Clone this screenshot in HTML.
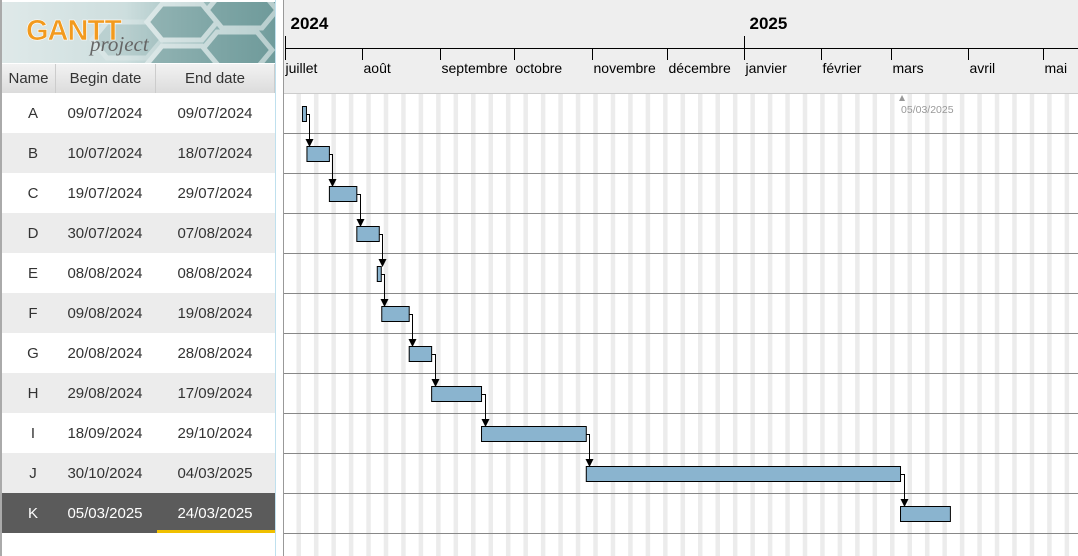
<!DOCTYPE html>
<html><head><meta charset="utf-8">
<style>
body{margin:0;width:1078px;height:556px;overflow:hidden;background:#fff;font-family:"Liberation Sans",Arial,sans-serif;position:relative}
#left{position:absolute;left:0;top:0;width:276px;height:556px;background:#fff;border-left:2px solid #aaa;box-sizing:border-box}
#logo{position:absolute;left:0;top:2px;width:273px;height:61px;overflow:hidden;background:linear-gradient(90deg,#dfe9e9 0%,#cddede 45%,#8fb3b3 80%,#6f9b9b 100%)}
.hdr{position:absolute;top:64px;height:29px;background:linear-gradient(#f2f2f2,#dcdcdc);border-right:1px solid #ccc;color:#333;font-size:15px;line-height:29px;text-align:center;box-sizing:border-box}
.row{position:absolute;left:0;width:273px;height:40px;font-size:15px;color:#333;line-height:41px}
.row span{position:absolute;text-align:center}
#chart{position:absolute;left:283px;top:0;width:795px;height:556px;border-left:1px solid #999;box-sizing:border-box}
</style></head><body>
<div id="left">
  <div id="logo">
    <svg width="273" height="61" style="position:absolute;left:0;top:0">
      <g fill="#6f9a9a" opacity="0.55" stroke="#f4f8f8" stroke-width="5">
        <polygon points="160,2 200,2 215,20 200,38 160,38 145,20"/>
        <polygon points="220,-10 260,-10 275,8 260,26 220,26 205,8"/>
        <polygon points="215,30 255,30 270,48 255,66 215,66 200,48"/>
        <polygon points="160,44 200,44 215,62 200,80 160,80 145,62"/>
        <polygon points="105,20 145,20 160,38 145,56 105,56 90,38" opacity="0.4"/>
      </g>
      <text x="24" y="38" font-family="Liberation Sans" font-weight="bold" font-size="29" fill="#f29a1e" stroke="#fff" stroke-width="0.6" letter-spacing="-1">GANTT</text>
      <text x="88" y="49" font-family="Liberation Serif" font-style="italic" font-size="21" fill="#666">project</text>
    </svg>
  </div>
  <div class="hdr" style="left:0;width:54px">Name</div>
  <div class="hdr" style="left:54px;width:100px">Begin date</div>
  <div class="hdr" style="left:154px;width:119px">End date</div>
  <div id="rows"></div>
  <div style="position:absolute;left:273px;top:0;width:1px;height:556px;background:#bfe0ee"></div>
</div>
<div id="chart">
  <svg id="svg" width="795" height="556" style="position:absolute;left:-284px;top:0;overflow:visible"></svg>
</div>
<script>
const names=["A","B","C","D","E","F","G","H","I","J","K"];
const beginDates=["09/07/2024","10/07/2024","19/07/2024","30/07/2024","08/08/2024","09/08/2024","20/08/2024","29/08/2024","18/09/2024","30/10/2024","05/03/2025"];
const endDates=["09/07/2024","18/07/2024","29/07/2024","07/08/2024","08/08/2024","19/08/2024","28/08/2024","17/09/2024","29/10/2024","04/03/2025","24/03/2025"];
const monthLabels=["juillet","août","septembre","octobre","novembre","décembre","janvier","février","mars","avril","mai"];
const yearLabels=["2024","2025"];
const todayLabel="05/03/2025";
const x0=284.5, pxDay=2.494, rowTop=93, rowH=40;
const base=Date.UTC(2024,6,1);
function day(s){const p=s.split('/');return (Date.UTC(+p[2],+p[1]-1,+p[0])-base)/864e5;}
function X(d){return x0+d*pxDay;}
const NS="http://www.w3.org/2000/svg";
const svg=document.getElementById('svg');
function mk(t,a,p){const e=document.createElementNS(NS,t);for(const k in a)e.setAttribute(k,a[k]);(p||svg).appendChild(e);return e;}
let hb=mk('rect',{x:284,y:0,width:794,height:93,fill:'#eeeeee'});


mk('line',{x1:284,y1:93.5,x2:1078,y2:93.5,stroke:'#ccc'});
for(let d=5; X(d)<1078; d+=7){
  const s=mk('rect',{x:X(d)-0.5,y:94,width:4.5,height:462,fill:'#ececec'});
  
  
}
mk('line',{x1:286,y1:48.5,x2:1078,y2:48.5,stroke:'#000'});
yearLabels.forEach((y,i)=>{
  const d=(Date.UTC(2024+i,i?0:6,1)-base)/864e5; const xx=Math.round(X(d)+0.5)+0.5;
  mk('line',{x1:xx,y1:36,x2:xx,y2:i?60:48,stroke:'#000'});
  const t=mk('text',{x:xx+5,y:29,'font-size':17,'font-weight':'bold',fill:'#000','font-family':'Liberation Sans'});t.textContent=y;
  
  
});
monthLabels.forEach((m,i)=>{
  const yy=2024+Math.floor((6+i)/12), mm=(6+i)%12;
  const d=(Date.UTC(yy,mm,1)-base)/864e5; const xx=Math.round(X(d)+0.5)+0.5;
  mk('line',{x1:xx,y1:48,x2:xx,y2:60,stroke:'#000'});
  const t=mk('text',{x:xx+(i?1:0),y:73,'font-size':14,fill:'#000','font-family':'Liberation Sans'});t.textContent=m;
  
  
});
const td=day(todayLabel), tx=X(td)+1.5;
mk('polygon',{points:`${tx-3},101 ${tx+3},101 ${tx},95`,fill:'#999'});
let tt=mk('text',{x:tx-1,y:113,'font-size':10.5,fill:'#999','font-family':'Liberation Sans'});tt.textContent=todayLabel;


for(let i=1;i<=names.length;i++){mk('line',{x1:284,y1:rowTop+i*rowH+0.5,x2:1078,y2:rowTop+i*rowH+0.5,stroke:'#888'});}
const bars=[];
names.forEach((n,i)=>{
  const s=X(day(beginDates[i])), e=X(day(endDates[i])+1);
  let w=e-s, bx=s; if(w<4){bx=s-2;w=4;}
  const y=rowTop+i*rowH+13;
  const r=mk('rect',{x:bx,y:y+0.5,width:w,height:15,fill:'#8ab4cf',stroke:'#000','stroke-width':1});
  
  
  bars.push({x:bx,e:bx+w,y:y});
});
for(let i=0;i<bars.length-1;i++){
  const a=bars[i], b=bars[i+1]; const lx=Math.round(a.e)+3.5, my=a.y+8.5;
  mk('polyline',{points:`${a.e},${my} ${lx},${my} ${lx},${b.y-1}`,fill:'none',stroke:'#000'});
  const ar=mk('polygon',{points:`${lx-4},${b.y-7} ${lx+4},${b.y-7} ${lx},${b.y+1}`,fill:'#000'});
  
  
}
const rows=document.getElementById('rows');
names.forEach((n,i)=>{
  const r=document.createElement('div');r.className='row';
  
  
  r.style.top=(rowTop+i*rowH)+'px';
  const sel=i===names.length-1;
  r.style.background=sel?'#5b5b5b':(i%2?'#ececec':'#fff');
  if(sel)r.style.color='#fff';
  r.innerHTML=`<span style="left:0;width:62px">${n}</span><span style="left:53px;width:100px">${beginDates[i]}</span><span style="left:154px;width:118px">${endDates[i]}</span>`;
  if(sel){const u=document.createElement('div');u.style.cssText='position:absolute;left:155px;top:37px;width:118px;height:3px;background:#f0c000';r.appendChild(u);}
  rows.appendChild(r);
});
</script>
</body></html>
